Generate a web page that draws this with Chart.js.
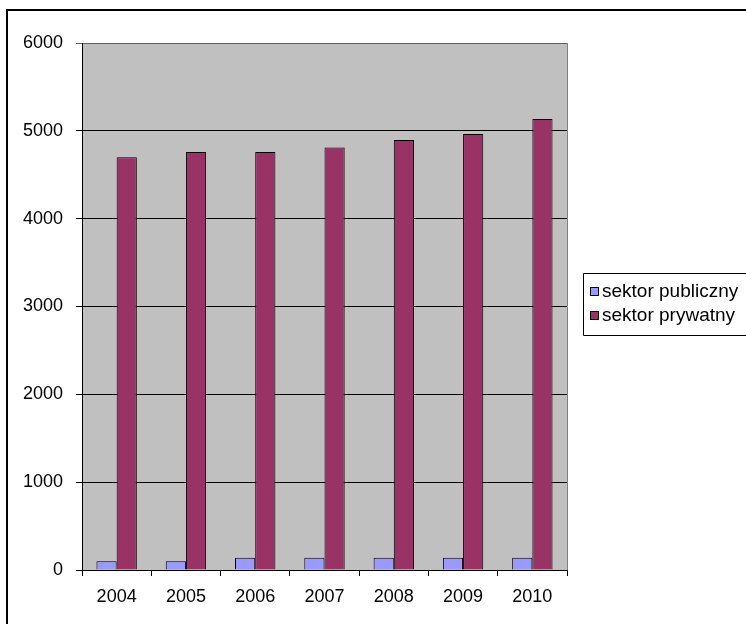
<!DOCTYPE html>
<html>
<head>
<meta charset="utf-8">
<script src="https://cdn.jsdelivr.net/npm/chart.js@4.4.0/dist/chart.umd.min.js"></script>
<style>
html,body{margin:0;padding:0;background:#fff;}
canvas{display:block;}
</style>
</head>
<body>
<canvas id="c" width="746" height="624"></canvas>
<script>
const categories = ['2004','2005','2006','2007','2008','2009','2010'];
const seriesNames = ['sektor publiczny','sektor prywatny'];
const publicValues = [100, 100, 140, 140, 140, 140, 140];
const privateValues = [4700, 4760, 4760, 4810, 4895, 4965, 5135];
const yTicks = [0, 1000, 2000, 3000, 4000, 5000, 6000];

const FONT = '"Liberation Sans", Arial, sans-serif';
const FS = 18;
const LFS = 19;

const framePlugin = {
  id: 'frame',
  beforeDraw(chart) {
    const ctx = chart.ctx;
    const a = chart.chartArea;
    ctx.save();
    ctx.fillStyle = '#fff';
    ctx.fillRect(0, 0, chart.width, chart.height);
    ctx.fillStyle = '#C0C0C0';
    ctx.fillRect(a.left, a.top, a.right - a.left, a.bottom - a.top);
    ctx.strokeStyle = '#000';
    ctx.lineWidth = 2;
    ctx.beginPath();
    ctx.moveTo(7, chart.height + 5);
    ctx.lineTo(7, 10);
    ctx.lineTo(chart.width + 5, 10);
    ctx.stroke();
    ctx.restore();
  },
  afterDatasetsDraw(chart) {
    const ctx = chart.ctx;
    const a = chart.chartArea;
    ctx.save();
    ctx.strokeStyle = '#808080';
    ctx.lineWidth = 1;
    ctx.beginPath();
    ctx.moveTo(Math.round(a.right) + 0.5, a.top);
    ctx.lineTo(Math.round(a.right) + 0.5, a.bottom);
    ctx.stroke();
    ctx.restore();
  },
  afterDraw(chart) {
    const ctx = chart.ctx;
    ctx.save();
    const bx = 583.5, by = 273.5, bh = 62;
    ctx.strokeStyle = '#000';
    ctx.lineWidth = 1;
    ctx.beginPath();
    ctx.moveTo(chart.width + 2, by);
    ctx.lineTo(bx, by);
    ctx.lineTo(bx, by + bh);
    ctx.lineTo(chart.width + 2, by + bh);
    ctx.stroke();
    ctx.font = LFS + 'px ' + FONT;
    ctx.textBaseline = 'middle';
    ctx.textAlign = 'left';
    chart.data.datasets.forEach((ds, i) => {
      const cy = 292 + i * 24;
      ctx.fillStyle = ds.backgroundColor;
      ctx.fillRect(590.5, cy - 4.5, 8, 8);
      ctx.strokeStyle = '#000';
      ctx.strokeRect(590.5, cy - 4.5, 8, 8);
      ctx.fillStyle = '#000';
      ctx.fillText(ds.label, 602, cy);
    });
    ctx.restore();
  }
};

new Chart(document.getElementById('c'), {
  type: 'bar',
  data: {
    labels: categories,
    datasets: [
      { label: seriesNames[0], data: publicValues, backgroundColor: '#9999FF', borderColor: '#000', borderWidth: 1 },
      { label: seriesNames[1], data: privateValues, backgroundColor: '#993366', borderColor: '#000', borderWidth: 1 }
    ]
  },
  options: {
    responsive: false,
    devicePixelRatio: 1,
    animation: false,
    events: [],
    layout: { padding: { left: 0, top: 43, right: 179, bottom: 0 } },
    datasets: { bar: { categoryPercentage: 0.583, barPercentage: 1.0 } },
    plugins: { legend: { display: false }, tooltip: { enabled: false }, title: { display: false } },
    scales: {
      x: {
        offset: true,
        grid: { offset: true, drawOnChartArea: false, drawTicks: true, tickLength: 6, color: '#000', lineWidth: 1 },
        border: { display: true, color: '#000', width: 1 },
        ticks: { color: '#000', font: { family: FONT, size: FS }, padding: 10, maxRotation: 0 },
        afterFit(s) { s.height = 624 - 43 - 527; }
      },
      y: {
        min: 0, max: 6000,
        afterBuildTicks(s) { s.ticks = yTicks.map(v => ({ value: v })); },
        grid: {
          color: (c) => (c.tick && c.tick.value === 6000) ? '#606060' : '#000',
          lineWidth: 1, drawTicks: true, tickLength: 6
        },
        border: { display: true, color: '#000', width: 1 },
        ticks: { color: '#000', font: { family: FONT, size: FS }, padding: 13, callback: (v) => String(v) },
        afterFit(s) { s.width = 82; }
      }
    }
  },
  plugins: [framePlugin]
});
</script>
</body>
</html>
